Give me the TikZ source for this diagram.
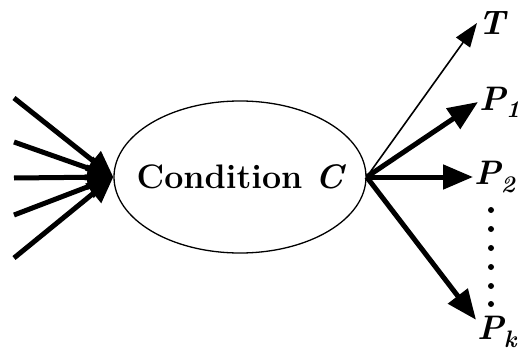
\documentclass[tikz,border=0pt]{standalone}
\usepackage{fontspec}
\usetikzlibrary{arrows.meta,shapes.geometric}

\begin{document}
\begin{tikzpicture}[
  x=1pt, y=1pt,
  cond/.style  = {draw, ellipse, line width=1.3pt, minimum width=252pt, minimum height=152pt, inner sep=0pt},
  feed/.style  = {-{Triangle[length=26pt,width=24pt]}, line width=5pt},
  heavy/.style = {-{Triangle[length=30pt,width=24pt]}, line width=5pt},
  light/.style = {-{Triangle[length=24pt,width=17pt]}, line width=1.6pt},
  big/.style   = {font=\fontsize{34}{40}\selectfont\bfseries},
  lab/.style   = {big, anchor=west, inner sep=1pt}
]
\useasboundingbox (0,0) rectangle (521,354);

% Nodes
\node[cond] (cnd) at (240,177) {};
\node[big] (cndtext) at (cnd.center) {Condition~\itshape C};

\node[lab] (T)  at (477,331) {\itshape T};
\node[lab] (P1) at (478,252) {\itshape P\textsubscript{1}};
\node[lab] (P2) at (473,177) {\itshape P\textsubscript{2}};
\node[lab] (Pk) at (476,22)  {\itshape P\textsubscript{k}};

% Incoming arrows
\foreach \y [count=\i] in {256,212,176,139,96} {
  \coordinate (in\i) at (14,\y);
  \draw[feed] (in\i) -- (cnd.west);
}

% Outgoing arrows
\draw[light] (cnd.east) -- (T.west);
\draw[heavy] (cnd.east) -- (P1.west);
\draw[heavy] (cnd.east) -- (P2.west);
\draw[heavy] (cnd.east) -- (Pk.150);

% Dots between P2 and Pk
\foreach \y in {144,125,106,87,68,50}
  \fill (491,\y) circle (3pt);

\end{tikzpicture}
\end{document}
